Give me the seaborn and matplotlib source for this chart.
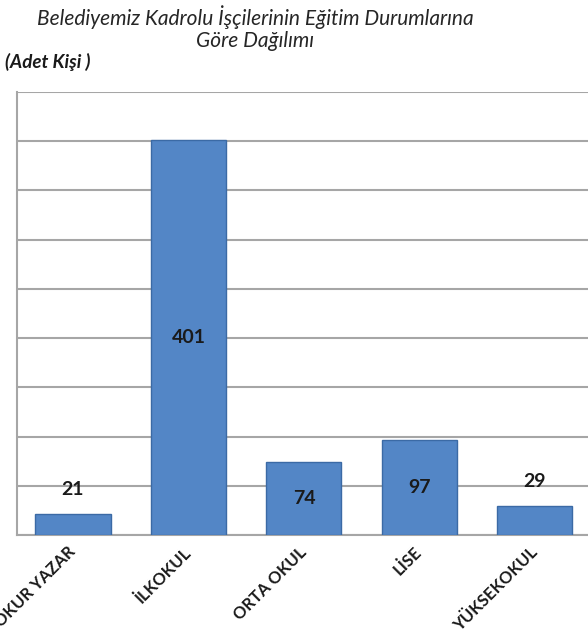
import matplotlib
matplotlib.use("Agg")
import matplotlib.pyplot as plt
import seaborn as sns
import pandas as pd

# Chart data
categories = ["OKUR YAZAR", "İLKOKUL", "ORTA OKUL", "LİSE", "YÜKSEKOKUL"]
values = [21, 401, 74, 97, 29]

df = pd.DataFrame({"egitim": categories, "kisi": values})

sns.set_style("white")
plt.rcParams["font.family"] = ["Lato", "DejaVu Sans"]

fig = plt.figure(figsize=(5.88, 6.36), dpi=100)
ax = fig.add_axes([0.0289, 0.1588, 0.9711, 0.6965])

sns.barplot(data=df, x="egitim", y="kisi", color="#5386c6", width=0.65,
            edgecolor="#3b6aa5", linewidth=1.0, saturation=1, ax=ax, zorder=3)

ax.set_xlim(-0.485, 4.46)
ax.set_ylim(0, 450)
ax.set_yticks(range(0, 451, 50))
ax.yaxis.grid(True, color="#a6a6a6", linewidth=1.5, zorder=0)
ax.tick_params(axis="y", left=False, labelleft=False)
ax.tick_params(axis="x", bottom=False, pad=7)
ax.set_xlabel("")
ax.set_ylabel("")

for side in ["top", "right"]:
    ax.spines[side].set_visible(False)
for side in ["left", "bottom"]:
    ax.spines[side].set_color("#a6a6a6")
    ax.spines[side].set_linewidth(1.5)

for lab in ax.get_xticklabels():
    lab.set_rotation(45)
    lab.set_ha("right")
    lab.set_va("center")
    lab.set_rotation_mode("anchor")
    lab.set_fontweight("bold")
    lab.set_fontsize(12)
    lab.set_color("#1a1a1a")

# value labels: inside for tall bars, above for short ones
for i, v in enumerate(values):
    if v > 50:
        ypos = v / 2
    else:
        ypos = v + 25
    ax.text(i, ypos, str(v), ha="center", va="center", fontsize=14,
            fontweight="bold", color="#1a1a1a", zorder=5)

fig.text(0.434, 0.992, "Belediyemiz Kadrolu İşçilerinin Eğitim Durumlarına\nGöre Dağılımı",
         ha="center", va="top", fontsize=15, style="italic", color="#262626",
         linespacing=1.15)
fig.text(0.008, 0.903, "(Adet Kişi )", ha="left", va="center", fontsize=13.5,
         style="italic", fontweight="bold", color="#1a1a1a")

fig.savefig("out.png", dpi=100)
